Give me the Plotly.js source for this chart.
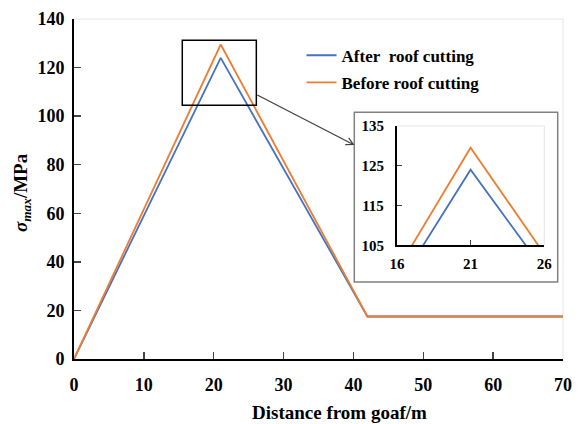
<!DOCTYPE html>
<html>
<head>
<meta charset="utf-8">
<script src="https://cdn.plot.ly/plotly-3.0.1.min.js"></script>
<style>html,body{margin:0;padding:0;background:#fff;}#chart{width:581px;height:424px;}</style>
</head>
<body>
<div id="chart"></div>
<script>
// Data
const distance = [0, 21, 42, 70];
const afterCutting = [0, 124, 17.5, 17.5];
const beforeCutting = [0, 129.5, 17.5, 17.5];
const xTicks = [0, 10, 20, 30, 40, 50, 60, 70];
const yTicks = [0, 20, 40, 60, 80, 100, 120, 140];
const insetXTicks = [16, 21, 26];
const insetYTicks = [105, 115, 125, 135];

const BLUE = '#4472C4', ORANGE = '#ED7D31';
const FONT = 'Liberation Serif';

// pixel -> main data helpers for decorations
const L = 74, T = 19, W = 489, H = 340;
const dx = p => (p - L) / W * 70;
const dy = p => (T + H - p) / H * 140;

const traces = [
  {x: distance, y: afterCutting, name: 'After\u00a0 roof cutting', mode: 'lines',
   line: {color: BLUE, width: 1.8}, xaxis: 'x', yaxis: 'y', legendgroup: 'a'},
  {x: distance, y: beforeCutting, name: 'Before roof cutting', mode: 'lines',
   line: {color: ORANGE, width: 1.8}, xaxis: 'x', yaxis: 'y', legendgroup: 'b'},
  {x: distance, y: afterCutting, mode: 'lines', showlegend: false,
   line: {color: BLUE, width: 1.8}, xaxis: 'x2', yaxis: 'y2'},
  {x: distance, y: beforeCutting, mode: 'lines', showlegend: false,
   line: {color: ORANGE, width: 1.8}, xaxis: 'x2', yaxis: 'y2'}
];

const hx = 353.3, hy = 144.5;
const layout = {
  width: 581, height: 424,
  margin: {l: L, r: 581 - L - W, t: T, b: 424 - T - H},
  paper_bgcolor: '#fff', plot_bgcolor: 'rgba(0,0,0,0)',
  font: {family: FONT, color: '#000'},
  showlegend: true,
  legend: {x: 0.4653, y: 0.945, xanchor: 'left', yanchor: 'top', bgcolor: 'rgba(0,0,0,0)',
           traceorder: 'grouped', tracegroupgap: 2,
           font: {family: FONT, size: 17, weight: 'bold', color: '#000'}},
  xaxis: {range: [0, 70], tickvals: xTicks, ticks: 'inside', ticklen: 7, tickwidth: 1.5,
          showline: true, linecolor: '#000', linewidth: 2, showgrid: false, zeroline: false,
          tickfont: {family: FONT, size: 18, weight: 'bold'}, ticklabelstandoff: 8, fixedrange: true},
  yaxis: {range: [0, 140], tickvals: yTicks, ticks: 'inside', ticklen: 7, tickwidth: 1.5,
          showline: true, linecolor: '#000', linewidth: 2, showgrid: false, zeroline: false,
          tickfont: {family: FONT, size: 18, weight: 'bold'}, ticklabelstandoff: 4, fixedrange: true},
  xaxis2: {domain: [0.6603, 0.9617], anchor: 'y2', range: [16, 26], tickvals: insetXTicks,
           ticks: 'inside', ticklen: 5, tickwidth: 1.5, showline: true, linecolor: '#000', linewidth: 2,
           showgrid: false, zeroline: false, tickfont: {family: FONT, size: 15, weight: 'bold'},
           ticklabelstandoff: 4, fixedrange: true},
  yaxis2: {domain: [0.3343, 0.6857], anchor: 'x2', range: [105, 135], tickvals: insetYTicks,
           ticks: 'inside', ticklen: 5, tickwidth: 1.5, showline: true, linecolor: '#000', linewidth: 2,
           showgrid: false, zeroline: false, tickfont: {family: FONT, size: 15, weight: 'bold'},
           ticklabelstandoff: 8, fixedrange: true},
  shapes: [
    // faint main frame
    {type: 'line', xref: 'paper', yref: 'paper', x0: 0, x1: 1, y0: 1, y1: 1, line: {color: '#e6e6e6', width: 1}, layer: 'below'},
    {type: 'line', xref: 'paper', yref: 'paper', x0: 1, x1: 1, y0: 0, y1: 1, line: {color: '#e6e6e6', width: 1}, layer: 'below'},
    // inset outer box
    {type: 'rect', xref: 'x', yref: 'y', x0: dx(354.3), x1: dx(557.7), y0: dy(282), y1: dy(112.3),
     line: {color: '#808080', width: 1.5}, fillcolor: '#fff', layer: 'below'},
    // faint inset frame
    {type: 'line', xref: 'x2 domain', yref: 'y2 domain', x0: 0, x1: 1, y0: 1, y1: 1, line: {color: '#e6e6e6', width: 1}},
    {type: 'line', xref: 'x2 domain', yref: 'y2 domain', x0: 1, x1: 1, y0: 0, y1: 1, line: {color: '#e6e6e6', width: 1}},
    // zoom rectangle
    {type: 'rect', xref: 'x', yref: 'y', x0: 15.5, x1: 26.1, y0: 104.5, y1: 131.2,
     line: {color: '#000', width: 1.5}, fillcolor: 'rgba(0,0,0,0)'},
    // arrow
    {type: 'path', xref: 'x', yref: 'y',
     path: 'M' + dx(257.3) + ',' + dy(95) + ' L' + dx(hx) + ',' + dy(hy),
     line: {color: '#404040', width: 1.2}},
    {type: 'path', xref: 'x', yref: 'y',
     path: 'M' + dx(hx - 4.6) + ',' + dy(hy - 6.6) + ' L' + dx(hx) + ',' + dy(hy) + ' L' + dx(hx - 8) + ',' + dy(hy + 0.1),
     line: {color: '#404040', width: 1.2}}
  ],
  annotations: [
    {text: '<b>Distance from goaf/m</b>', xref: 'paper', yref: 'paper', showarrow: false,
     x: (339 - L) / W, y: (T + H - 413) / H, xanchor: 'center', yanchor: 'middle',
     font: {family: FONT, size: 19, color: '#000'}},
    {text: '<b><i>σ</i><sub><i>max</i></sub>/MPa</b>', xref: 'paper', yref: 'paper', showarrow: false,
     x: (22 - L) / W, y: (T + H - 193) / H, xanchor: 'center', yanchor: 'middle', textangle: -90,
     font: {family: FONT, size: 19, color: '#000'}}
  ]
};

Plotly.newPlot('chart', traces, layout, {displayModeBar: false, staticPlot: true});
</script>
</body>
</html>
